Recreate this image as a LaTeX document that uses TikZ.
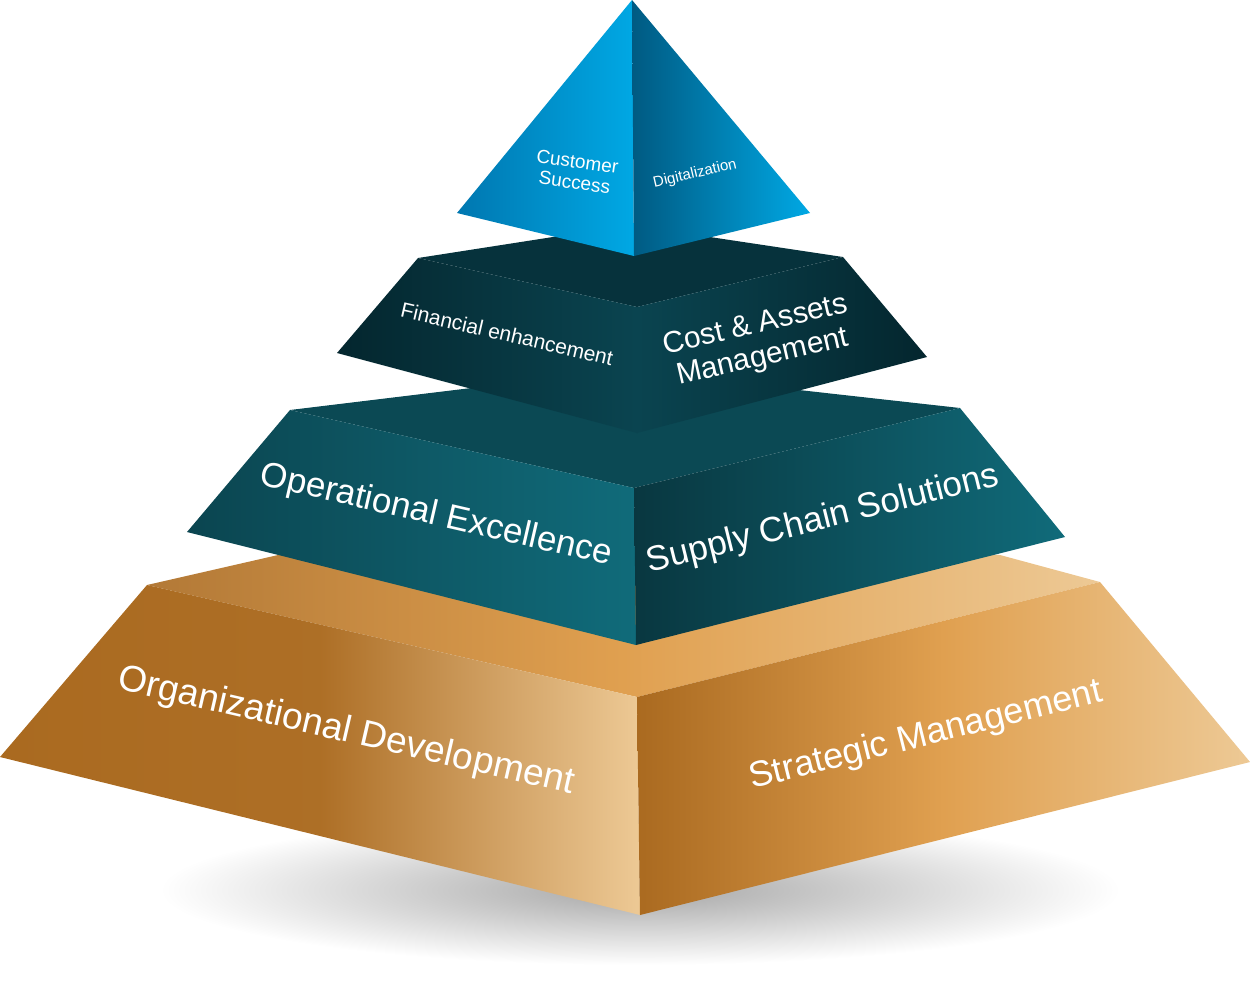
\documentclass[tikz,border=0pt]{standalone}
\usepackage{fontspec}
\setmainfont{Liberation Sans}
\usetikzlibrary{positioning}
\definecolor{ochre}{HTML}{AA6A20}
\definecolor{sand}{HTML}{EDC995}
\definecolor{amber}{HTML}{E0A050}
\definecolor{tealA}{HTML}{0B4550}
\definecolor{tealB}{HTML}{106B7A}
\definecolor{deepA}{HTML}{04262E}
\definecolor{deepB}{HTML}{0A4450}
\definecolor{skyA}{HTML}{0077B0}
\definecolor{skyB}{HTML}{00A8E4}
\definecolor{navy}{HTML}{005A82}
\begin{document}
\begin{tikzpicture}[x=1pt,y=-1pt,
  label/.style={text=white, align=center, inner sep=0pt, font=\fontsize{#1}{1.1\dimexpr#1pt\relax}\selectfont},
  label/.default=30]
\useasboundingbox (0,0) rectangle (1251,999);
% shadow
\shade[inner color=black!35, outer color=white] (640,890) ellipse (480 and 75);
% bottom tier
\shade[left color=ochre!90, right color=sand, middle color=amber] (147,585) -- (300,550) -- (1000,555) -- (1100,582) -- (637,697) -- cycle;
\shade[left color=ochre, right color=sand, middle color=ochre!95!sand] (0,757) -- (147,585) -- (637,697) -- (640,915) -- cycle;
\shade[left color=ochre, right color=sand, middle color=amber] (637,697) -- (1100,582) -- (1250,762) -- (640,915) -- cycle;
% teal tier
\fill[tealA!90!tealB] (290,410) -- (620,370) -- (960,408) -- (634,488) -- cycle;
\shade[left color=tealA, right color=tealB] (187,532) -- (290,410) -- (634,488) -- (636,645) -- cycle;
\shade[left color=tealA!80!black, right color=tealB] (634,488) -- (960,408) -- (1065,537) -- (636,645) -- cycle;
% dark tier
\fill[deepA!60!deepB] (418,258) -- (630,225) -- (843,257) -- (637,307) -- cycle;
\shade[left color=deepA, right color=deepB] (337,353) -- (418,258) -- (637,307) -- (637,433) -- cycle;
\shade[left color=deepB, right color=deepA] (637,307) -- (843,257) -- (927,357) -- (637,433) -- cycle;
% top
\shade[left color=skyA, right color=skyB] (632,0) -- (457,213) -- (634,256) -- cycle;
\shade[left color=navy, right color=skyB] (632,0) -- (810,213) -- (634,256) -- cycle;
% labels
\node (orgdev) [label=37, rotate=-13] at (346,732) {Organizational Development};
\node (stratmgmt) [label=36, rotate=14] at (926,736) {Strategic Management};
\node (opex) [label=35, rotate=-13] at (436,516) {Operational Excellence};
\node (supply) [label=35, rotate=14] at (823,520) {Supply Chain Solutions};
\node (finance) [label=21, rotate=-13] at (507,334) {Financial enhancement};
\node (cost) [label=30, rotate=13] at (759,342) {Cost \& Assets\\Management};
\node (customer) [label=19, rotate=-8] at (576,172) {Customer\\Success};
\node (digital) [label=15, rotate=13] at (695,174) {Digitalization};
\end{tikzpicture}
\end{document}
